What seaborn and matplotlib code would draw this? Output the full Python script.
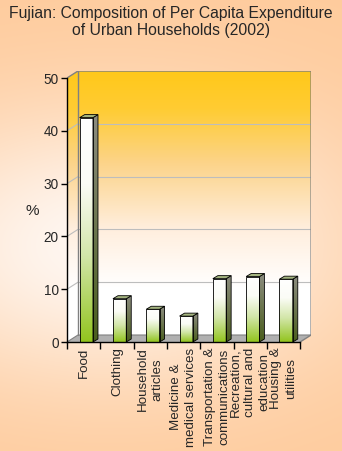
import numpy as np
import pandas as pd
import matplotlib
matplotlib.use("Agg")
import matplotlib.pyplot as plt
import seaborn as sns
from matplotlib.patches import Polygon
from matplotlib.colors import LinearSegmentedColormap

categories = ["Food", "Clothing", "Household\narticles", "Medicine &\nmedical services",
              "Transportation &\ncommunications", "Recreation,\ncultural and\neducation",
              "Housing &\nutilities"]
values = [42.5, 8.2, 6.2, 4.9, 12.0, 12.4, 11.9]
yticks = [0, 10, 20, 30, 40, 50]
title = "Fujian: Composition of Per Capita Expenditure\nof Urban Households (2002)"
ylabel = "%"

sns.set_style("white")
plt.rcParams['font.family'] = ['Liberation Sans', 'DejaVu Sans']

W, H = 342, 451
fig = plt.figure(figsize=(W / 100, H / 100), dpi=100)

# page background
bg = fig.add_axes([0, 0, 1, 1])
bg.axis('off')
yy, xx = np.mgrid[0:H, 0:W]
wgt = np.exp(-(((xx - 110) / 240.0) ** 2 + ((yy - 245) / 140.0) ** 2))
peach = np.array([0xFE, 0xCB, 0x9C]) / 255
light = np.array([0xFF, 0xF7, 0xF2]) / 255
img = peach * (1 - wgt[..., None]) + light * wgt[..., None]
bg.imshow(img, extent=(0, 1, 0, 1), aspect='auto')
bg.set_xlim(0, 1)
bg.set_ylim(0, 1)

n = len(categories)
pxx = 33.3
pxy = 5.28
dx = 11 / pxx
dy = 7 / pxy
xmin, xmax = -0.5, n - 0.5
ytop = 50
ax_w = (xmax - xmin + dx) * pxx
ax_h = (ytop + dy) * pxy
ax = fig.add_axes([67 / W, 1 - 342 / H, ax_w / W, ax_h / H])
ax.patch.set_alpha(0)

df = pd.DataFrame({"cat": categories, "val": values})
sns.barplot(data=df, x="cat", y="val", ax=ax, width=0.4, color="white",
            edgecolor="black", linewidth=0.6, zorder=6)
bars = list(ax.patches)

# walls gradient
wall_cmap = LinearSegmentedColormap.from_list("wall", [
    (0.0, "#FFFFFF"), (0.2, "#FFFFFF"), (0.42, "#FFEEDD"), (0.66, "#FCD48A"),
    (0.86, "#FFCC33"), (1.0, "#FFC81A")])
grad = np.linspace(1, 0, 256)[:, None]
wall_poly = Polygon([(xmin, 0), (xmin, ytop), (xmin + dx, ytop + dy), (xmax + dx, ytop + dy),
                     (xmax + dx, dy), (xmax, 0)], closed=True, transform=ax.transData)
im = ax.imshow(grad, cmap=wall_cmap, vmin=0, vmax=1, aspect='auto',
               extent=(xmin, xmax + dx, 0, ytop + dy), zorder=1)
im.set_clip_path(wall_poly)

# floor
ax.add_patch(Polygon([(xmin, 0), (xmax, 0), (xmax + dx, dy), (xmin + dx, dy)], closed=True,
                     facecolor="#B0B0B0", edgecolor="none", zorder=2))

# grid lines
for v in yticks[1:-1]:
    ax.plot([xmin + dx, xmax + dx], [v + dy, v + dy], color="#BDBDBD", lw=0.8, zorder=2)
    ax.plot([xmin, xmin + dx], [v, v + dy], color="#BDBDBD", lw=0.8, zorder=2)
edge = "#808080"
ax.plot([xmin, xmin + dx, xmax + dx, xmax + dx, xmax], [ytop, ytop + dy, ytop + dy, dy, 0],
        color=edge, lw=1, zorder=3)
ax.plot([xmin + dx, xmin + dx], [dy, ytop + dy], color=edge, lw=1, zorder=3)
ax.plot([xmin, xmin + dx, xmax + dx], [0, dy, dy], color=edge, lw=0.8, zorder=3)

# bars with gradient + 3D faces
bar_cmap = LinearSegmentedColormap.from_list("bar", [
    (0.0, "#FFFFFF"), (0.3, "#FBFCF6"), (0.62, "#D2E6A8"), (1.0, "#92C41E")])
side_cmap = LinearSegmentedColormap.from_list("side", [(0.0, "#8C8C80"), (1.0, "#4A5E1C")])
bdx = 5 / pxx
bdy = 3 / pxy
shift = 0.08
for p in bars:
    if p.get_height() <= 0:
        continue
    p.set_x(p.get_x() + shift)
    x0, w, h = p.get_x(), p.get_width(), p.get_height()
    p.set_facecolor("none")
    bi = ax.imshow(np.linspace(0, 1, 256)[:, None], cmap=bar_cmap, vmin=0, vmax=1,
                   aspect='auto', extent=(x0, x0 + w, 0, h), zorder=5)
    bi.set_clip_path(p)
    side = Polygon([(x0 + w, 0), (x0 + w + bdx, bdy), (x0 + w + bdx, h + bdy), (x0 + w, h)],
                   closed=True, facecolor="none", edgecolor="black", lw=0.6, zorder=6)
    ax.add_patch(side)
    si = ax.imshow(np.linspace(0, 1, 256)[:, None], cmap=side_cmap, vmin=0, vmax=1,
                   aspect='auto', extent=(x0 + w, x0 + w + bdx, 0, h + bdy), zorder=5)
    si.set_clip_path(side)
    ax.add_patch(Polygon([(x0, h), (x0 + w, h), (x0 + w + bdx, h + bdy), (x0 + bdx, h + bdy)],
                         closed=True, facecolor="#A3B37F", edgecolor="black", lw=0.6, zorder=6))

ax.set_xlim(xmin, xmax + dx)
ax.set_ylim(0, ytop + dy)
for s in ["top", "right"]:
    ax.spines[s].set_visible(False)
for s in ["left", "bottom"]:
    ax.spines[s].set_color("black")
    ax.spines[s].set_linewidth(1)
    ax.spines[s].set_zorder(7)
ax.spines["left"].set_bounds(0, ytop)
ax.spines["bottom"].set_bounds(xmin, xmax)

ax.set_yticks(yticks)
ax.set_yticklabels([str(t) for t in yticks], fontsize=9.8)
ax.tick_params(axis='y', length=4, width=1, color="black", pad=2, direction='out', left=True)
ax.set_xticks(range(n))
ax.set_xticklabels(categories, rotation=90, fontsize=9.6, va='top', ha='center',
                   multialignment='center', linespacing=1.3)
ax.tick_params(axis='x', which='major', length=0, pad=4)
ax.set_xticks(np.arange(xmin, xmax + 0.01, 1), minor=True)
ax.tick_params(axis='x', which='minor', length=5, width=1, color="black", direction='out', bottom=True)
ax.set_xlabel("")
ax.set_ylabel(ylabel, rotation=0, fontsize=11, ha='center', va='center')
ax.yaxis.set_label_coords((32 - 67) / ax_w, (342 - 211) / ax_h)

fig.text(0.5, 1 - 6 / H, title, ha='center', va='top', fontsize=11.3, linespacing=1.2)

fig.savefig("out.png", dpi=100)
